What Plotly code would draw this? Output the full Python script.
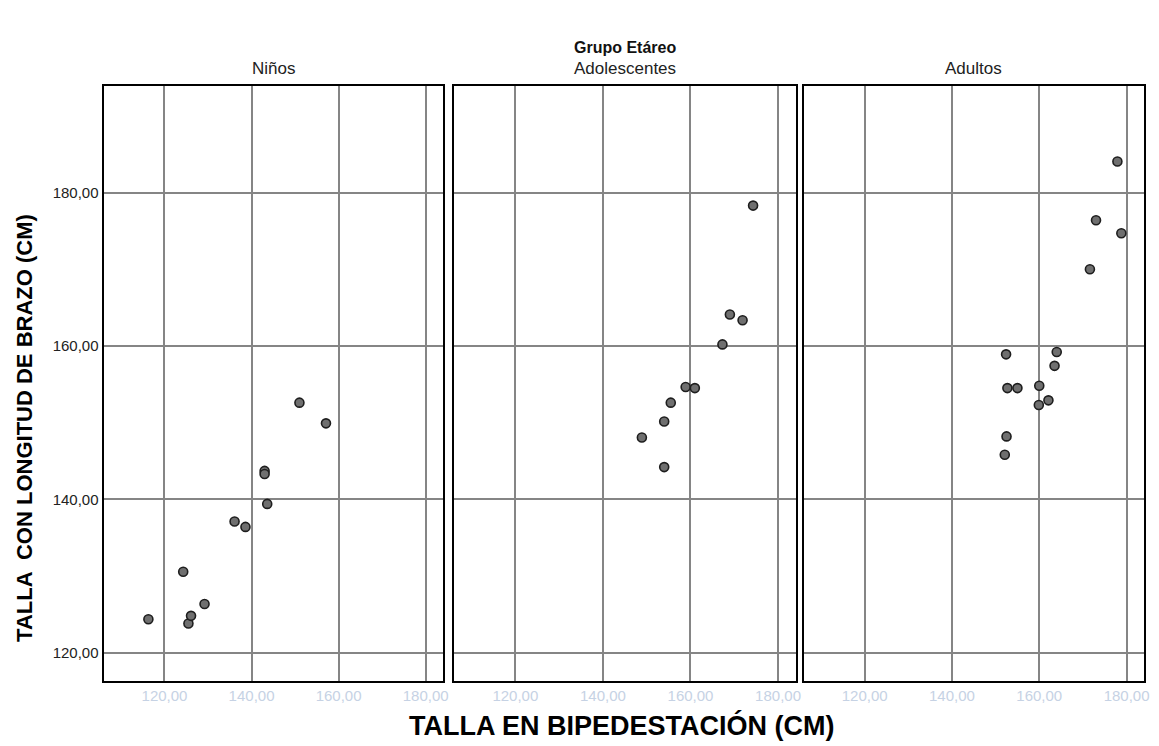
import plotly.graph_objects as go

# ---- data ----
panels = ["Niños", "Adolescentes", "Adultos"]

ninos_x = [116.3, 124.3, 125.5, 126.1, 129.2, 136.1, 138.6, 143.6, 143.0, 143.0, 151.0, 157.1]
ninos_y = [124.35, 130.55, 123.8, 124.8, 126.35, 137.1, 136.4, 139.4, 143.7, 143.3, 152.6, 149.9]

adol_x = [174.3, 169.0, 171.9, 167.3, 158.9, 161.0, 155.5, 154.0, 148.9, 154.0]
adol_y = [178.3, 164.1, 163.35, 160.2, 154.65, 154.5, 152.6, 150.15, 148.05, 144.2]

adul_x = [177.9, 173.0, 178.8, 171.6, 152.4, 164.0, 163.5, 152.7, 155.0, 160.0, 162.1, 159.9, 152.5, 152.1]
adul_y = [184.05, 176.4, 174.7, 170.0, 158.9, 159.2, 157.4, 154.5, 154.5, 154.8, 152.9, 152.3, 148.2, 145.8]

tick_vals = [120, 140, 160, 180]
tick_text = ["120,00", "140,00", "160,00", "180,00"]

x_range = [106, 184]
y_range = [116.3, 193.9]

W, H = 1159, 746
narrow = "Liberation Sans Narrow, Arial Narrow, Liberation Sans, Arial, sans-serif"
bold = "Liberation Sans, Arial, sans-serif"

fig = go.Figure()
series = [(ninos_x, ninos_y), (adol_x, adol_y), (adul_x, adul_y)]
for i, (xs, ys) in enumerate(series):
    fig.add_trace(go.Scatter(
        x=xs, y=ys, mode="markers",
        xaxis="x" if i == 0 else f"x{i+1}",
        yaxis="y" if i == 0 else f"y{i+1}",
        marker=dict(size=9, color="#6f6f6f", line=dict(color="#1e1e1e", width=1.6)),
        showlegend=False, hoverinfo="x+y",
    ))

x_px = [(104, 445), (456, 799), (807, 1149)]
y_dom = [1 - 681 / H, 1 - 86 / H]

common_axis = dict(
    showline=True, linecolor="black", linewidth=2, mirror=True,
    showgrid=True, gridcolor="#858585", gridwidth=1.5,
    zeroline=False, ticks="", tickvals=tick_vals, ticktext=tick_text,
)

layout = dict(
    width=W, height=H, margin=dict(l=0, r=0, t=0, b=0),
    plot_bgcolor="white", paper_bgcolor="white",
)
for i, (a, b) in enumerate(x_px):
    sx = "" if i == 0 else str(i + 1)
    layout[f"xaxis{sx}"] = dict(
        common_axis, domain=[a / W, b / W], range=x_range,
        anchor=f"y{sx}", tickfont=dict(family=narrow, size=15, color="#c6d2e4"),
    )
    layout[f"yaxis{sx}"] = dict(
        common_axis, domain=y_dom, range=y_range, anchor=f"x{sx}",
        showticklabels=(i == 0),
        tickfont=dict(family=narrow, size=15, color="#222222"),
    )

fig.update_layout(**layout)

annotations = []
for i, (a, b) in enumerate(x_px):
    annotations.append(dict(
        text=panels[i], x=(a + b) / 2 / W, y=1 - 68 / H, xref="paper", yref="paper",
        showarrow=False, font=dict(family=narrow, size=17, color="#222222"),
        xanchor="center", yanchor="middle",
    ))
annotations.append(dict(
    text="<b>Grupo Etáreo</b>", x=628 / W, y=1 - 47 / H, xref="paper", yref="paper",
    showarrow=False, font=dict(family=narrow, size=16, color="#111111"),
    xanchor="center", yanchor="middle",
))
annotations.append(dict(
    text="<b>TALLA EN BIPEDESTACIÓN (CM)</b>", x=624 / W, y=1 - 725 / H,
    xref="paper", yref="paper", showarrow=False,
    font=dict(family=bold, size=27, color="black"), xanchor="center", yanchor="middle",
))
annotations.append(dict(
    text="<b>TALLA  CON LONGITUD DE BRAZO (CM)</b>", x=24 / W, y=1 - 428 / H,
    xref="paper", yref="paper", showarrow=False, textangle=-90,
    font=dict(family=bold, size=22, color="black"), xanchor="center", yanchor="middle",
))
fig.update_layout(annotations=annotations)

fig.write_html("out.html")
